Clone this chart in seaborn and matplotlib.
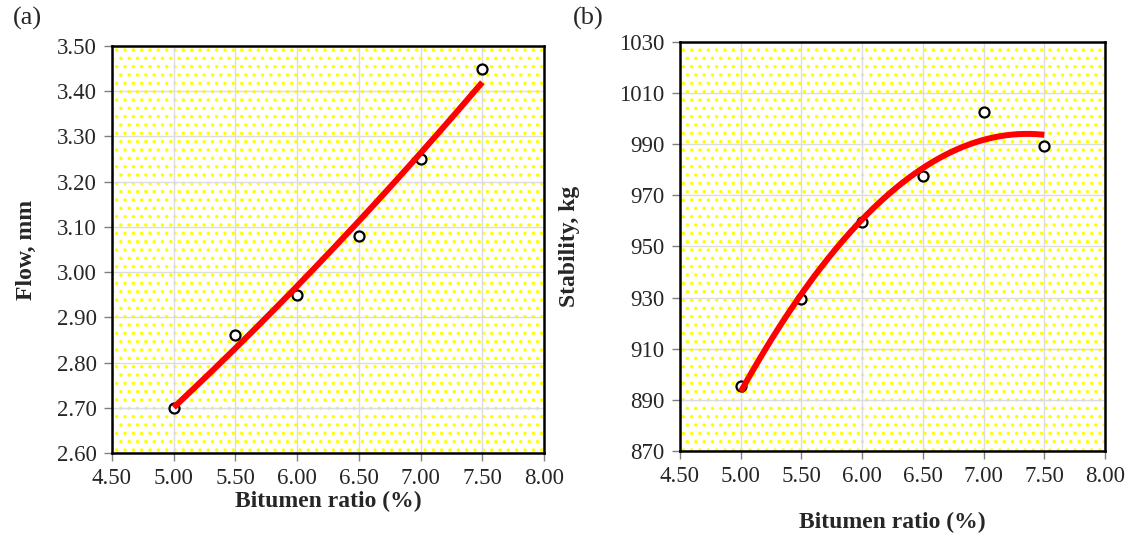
import numpy as np
import pandas as pd
import matplotlib
matplotlib.use("Agg")
import matplotlib.pyplot as plt
from matplotlib.patches import Rectangle
import seaborn as sns

# ---------------- data ----------------
bitumen = [5.0, 5.5, 6.0, 6.5, 7.0, 7.5]
flow_mm = [2.70, 2.86, 2.95, 3.08, 3.25, 3.45]
stability_kg = [895.5, 929.5, 959.5, 977.5, 1002.5, 989.5]

# trend line values (polynomial trendlines)
flow_trend = [2.703, 2.828, 2.968, 3.115, 3.265, 3.418]
stab_trend = [893.2, 931.4, 960.6, 980.7, 991.7, 993.7]

x_ticks = [4.50, 5.00, 5.50, 6.00, 6.50, 7.00, 7.50, 8.00]
flow_ticks = [2.60, 2.70, 2.80, 2.90, 3.00, 3.10, 3.20, 3.30, 3.40, 3.50]
stab_ticks = [870, 890, 910, 930, 950, 970, 990, 1010, 1030]

# ---------------- style ----------------
sns.set_style("white")
plt.rcParams["font.family"] = ["Liberation Serif", "DejaVu Serif"]
plt.rcParams["hatch.linewidth"] = 1.3

fig = plt.figure(figsize=(11.33, 5.33), dpi=100)
ax1 = fig.add_axes([112 / 1133, 1 - 453 / 533, (544 - 112) / 1133, (453 - 46) / 533])
ax2 = fig.add_axes([680 / 1133, 1 - 451 / 533, (1105 - 680) / 1133, (451 - 42) / 533])


def smooth(xs, ys):
    c = np.polyfit(xs, ys, 2)
    xx = np.linspace(min(xs), max(xs), 200)
    return xx, np.polyval(c, xx)


def draw(ax, y, trend, yticks, ylabel, yfmt, xlabelpad, ylabelpad):
    ax.set_facecolor("white")
    ax.add_patch(Rectangle((0, 0), 1, 1, transform=ax.transAxes, facecolor="white",
                           edgecolor="#ffff00", hatch="..", lw=0, zorder=0.1))
    ax.set_axisbelow(True)
    ax.grid(True, color="#dcdcdc", lw=1.0, zorder=0.5)

    df = pd.DataFrame({"x": bitumen, "y": y})
    sns.scatterplot(data=df, x="x", y="y", ax=ax, marker="o", s=52,
                    facecolor="white", edgecolor="black", linewidth=1.6, zorder=3)
    xx, yy = smooth(bitumen, trend)
    dft = pd.DataFrame({"x": xx, "y": yy})
    sns.lineplot(data=dft, x="x", y="y", ax=ax, color="#ff0000", lw=4.3,
                 zorder=4, solid_capstyle="butt")

    ax.set_xlim(x_ticks[0], x_ticks[-1])
    ax.set_ylim(yticks[0], yticks[-1])
    ax.set_xticks(x_ticks)
    ax.set_xticklabels([f"{v:.2f}" for v in x_ticks])
    ax.set_yticks(yticks)
    ax.set_yticklabels([yfmt(v) for v in yticks])
    ax.tick_params(axis="both", which="major", direction="out", length=6, width=1,
                   color="#808080", labelsize=16.5, pad=5, bottom=True, left=True)
    for sp in ax.spines.values():
        sp.set_color("black")
        sp.set_linewidth(1.8)
        sp.set_visible(True)
    ax.set_xlabel("Bitumen ratio (%)", fontsize=17, fontweight="bold", labelpad=xlabelpad)
    ax.set_ylabel(ylabel, fontsize=17, fontweight="bold", labelpad=ylabelpad)


draw(ax1, flow_mm, flow_trend, flow_ticks, "Flow, mm", lambda v: f"{v:.2f}", 1, 14)
draw(ax2, stability_kg, stab_trend, stab_ticks, "Stability, kg", lambda v: f"{v:d}", 18, 28)

fig.text(13 / 1133, 1 - 18 / 533, "(a)", fontsize=19, va="center", ha="left")
fig.text(573 / 1133, 1 - 18 / 533, "(b)", fontsize=19, va="center", ha="left")

fig.savefig("out.png", dpi=100)
